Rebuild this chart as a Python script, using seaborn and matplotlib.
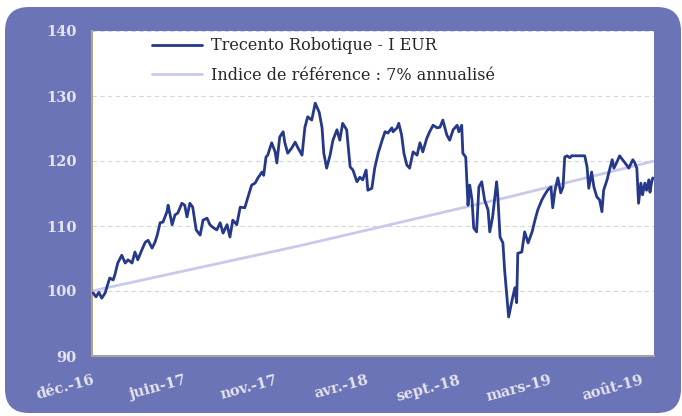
import pandas as pd
import matplotlib
matplotlib.use("Agg")
import matplotlib.pyplot as plt
import seaborn as sns
from matplotlib.patches import FancyBboxPatch
from matplotlib.transforms import IdentityTransform

# Series (days since 30/12/2016, index level)
start = pd.Timestamp("2016-12-30")

jours = [2, 7, 12, 17, 23, 26, 31, 37, 40, 45, 52, 58, 63, 70, 75, 80, 87, 93, 98, 105,
         110, 114, 119, 124, 131, 133, 140, 145, 150, 157, 162, 166, 171, 176, 182, 189,
         194, 201, 206, 211, 218, 224, 229, 236, 241, 246, 253, 259, 267, 272, 279, 285,
         290, 297, 300, 304, 307, 314, 320, 323, 328, 334, 337, 342, 349, 355, 360, 367,
         372, 377, 384, 390, 393, 397, 402, 405, 410, 416, 421, 428, 433, 438, 445, 451,
         456, 463, 468, 473, 479, 482, 489, 494, 500, 507, 512, 517, 524, 526, 533, 536,
         541, 545, 550, 555, 561, 568, 573, 578, 585, 590, 596, 603, 608, 613, 620, 625,
         631, 638, 641, 646, 648, 653, 657, 660, 664, 667, 672, 676, 681, 686, 692, 695,
         700, 707, 709, 713, 718, 721, 725, 728, 734, 739, 742, 744, 751, 756, 762, 769,
         774, 779, 786, 791, 796, 802, 805, 809, 814, 819, 823, 826, 830, 835, 838, 847,
         856, 861, 865, 868, 873, 877, 882, 887, 891, 894, 900, 903, 909, 912, 917, 922,
         927, 934, 938, 945, 948, 952, 955, 959, 962, 966, 969, 973, 975, 978, 980]

trecento = [99.7, 99.1, 99.8, 98.9, 99.7, 100.6, 102.0, 101.7, 102.5, 104.3, 105.5, 104.3,
            104.8, 104.3, 106.0, 104.8, 106.3, 107.5, 107.8, 106.6, 107.5, 108.6, 110.5,
            110.6, 112.2, 113.2, 110.2, 111.7, 112.0, 113.5, 113.2, 111.4, 113.5, 112.9,
            109.4, 108.6, 110.9, 111.2, 110.2, 109.8, 109.4, 110.5, 108.9, 110.2, 108.3,
            110.9, 110.2, 112.9, 112.8, 114.3, 116.3, 116.6, 117.4, 118.3, 117.8, 120.6,
            120.9, 122.8, 121.4, 119.7, 123.7, 124.5, 122.8, 121.2, 122.0, 122.9, 122.0,
            120.9, 125.2, 126.8, 126.3, 128.9, 128.3, 127.5, 125.1, 121.2, 118.9, 120.9,
            123.2, 124.8, 123.2, 125.8, 124.8, 119.1, 118.6, 116.8, 117.5, 117.1, 118.6,
            115.5, 115.8, 118.9, 121.2, 123.2, 124.5, 124.3, 125.1, 124.5, 125.1, 125.8,
            124.0, 121.2, 119.4, 118.9, 121.4, 120.9, 122.8, 121.4, 123.5, 124.5, 125.5,
            125.1, 125.2, 126.3, 124.0, 123.2, 124.8, 125.5, 124.5, 125.5, 121.2, 120.6,
            113.2, 116.3, 114.0, 109.7, 109.1, 116.0, 116.8, 114.0, 112.5, 109.1, 111.4,
            116.8, 114.8, 108.3, 107.4, 103.2, 99.1, 96.0, 98.6, 100.5, 98.2, 105.8, 106.0,
            109.1, 107.4, 109.1, 110.9, 112.5, 114.0, 114.8, 115.5, 116.0, 112.8, 115.5,
            117.4, 115.1, 116.0, 120.6, 120.8, 120.5, 120.8, 120.8, 120.8, 120.8, 119.1,
            115.8, 118.3, 116.0, 114.5, 114.0, 112.2, 115.5, 117.1, 118.2, 120.2, 118.9,
            119.8, 120.8, 120.2, 119.4, 118.9, 120.2, 119.8, 118.9, 113.5, 116.6, 114.8,
            116.6, 115.5, 117.1, 115.2, 116.8, 117.4]

jours_ref = [0, 365, 730, 982]
reference = [100.0, 107.0, 114.5, 120.0]

tick_jours = [0, 160, 320, 480, 640, 800, 960]
tick_labels = ["déc.-16", "juin-17", "nov.-17", "avr.-18", "sept.-18", "mars-19", "août-19"]

serie = pd.DataFrame({"date": start + pd.to_timedelta(jours, unit="D"), "valeur": trecento})
indice = pd.DataFrame({"date": start + pd.to_timedelta(jours_ref, unit="D"), "valeur": reference})

sns.set_style("white")
plt.rcParams["font.family"] = ["DejaVu Serif"]

fig = plt.figure(figsize=(6.82, 4.16), dpi=100)
fig.patch.set_facecolor("white")

# rounded purple panel behind the chart
fond = FancyBboxPatch((5, 3), 676, 406, boxstyle="round,pad=0,rounding_size=24",
                      transform=IdentityTransform(), facecolor="#6b74b6", edgecolor="none")
fond.set_zorder(-10)
fig.add_artist(fond)

ax = fig.add_axes([92 / 682, 60 / 416, 562 / 682, 325 / 416])
ax.set_zorder(5)
ax.set_facecolor("white")

sns.lineplot(data=indice, x="date", y="valeur", ax=ax, color="#c9c9ec", linewidth=2,
             label="Indice de référence : 7% annualisé", zorder=2)
sns.lineplot(data=serie, x="date", y="valeur", ax=ax, color="#25388a", linewidth=2,
             label="Trecento Robotique - I EUR", zorder=3)

ax.set_xlim(start, start + pd.Timedelta(days=982))
ax.set_ylim(90, 140)
ax.set_yticks([90, 100, 110, 120, 130, 140])
ax.set_xticks(start + pd.to_timedelta(tick_jours, unit="D"))
ax.set_xticklabels(tick_labels, rotation=15, ha="right", rotation_mode="anchor")
ax.set_xlabel("")
ax.set_ylabel("")

for y in [100, 110, 120, 130, 140]:
    ax.axhline(y, color="#d6d6d6", linewidth=0.8, linestyle=(0, (4, 3)), zorder=1)

ax.spines["top"].set_visible(False)
ax.spines["right"].set_visible(False)
ax.spines["left"].set_color("#b3a67e")
ax.spines["left"].set_linewidth(1.5)
ax.spines["bottom"].set_color("#a3a3a3")
ax.spines["bottom"].set_linewidth(1.5)

ax.tick_params(axis="y", direction="out", length=5, width=1.2, color="#b3a67e",
               labelsize=10.5, labelcolor="#e4e4ee", pad=6)
ax.tick_params(axis="x", direction="inout", length=9, width=1, color="#a3a3a3",
               labelsize=10.5, labelcolor="#e4e4ee", pad=8)
for lab in ax.get_xticklabels() + ax.get_yticklabels():
    lab.set_fontweight("bold")

handles, labels = ax.get_legend_handles_labels()
leg = ax.legend(handles[::-1], labels[::-1], loc="upper left", bbox_to_anchor=(0.082, 1.025),
                frameon=False, fontsize=11.5, handlelength=3.1, labelspacing=0.78,
                handletextpad=0.55)

fig.savefig("out.png", dpi=100)
